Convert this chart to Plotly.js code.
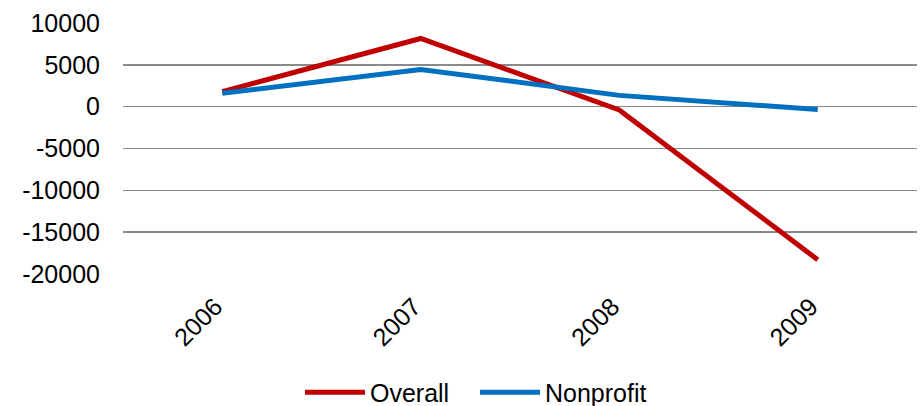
<!DOCTYPE html>
<html>
<head>
<meta charset="utf-8">
<script src="https://cdn.plot.ly/plotly-3.0.1.min.js"></script>
<style>html,body{margin:0;padding:0;background:#fff;}#chart{width:921px;height:406px;}</style>
</head>
<body>
<div id="chart"></div>
<script>
const years = ["2006", "2007", "2008", "2009"];
const overall = [1800, 8150, -400, -18300];
const nonprofit = [1600, 4450, 1350, -350];
const yTicks = [-20000, -15000, -10000, -5000, 0, 5000, 10000];

const traces = [
  {x: years, y: overall, name: "Overall", type: "scatter", mode: "lines",
   line: {color: "#C00000", width: 5}},
  {x: years, y: nonprofit, name: "Nonprofit", type: "scatter", mode: "lines",
   line: {color: "#0070C0", width: 5}}
];

const layout = {
  width: 921, height: 406,
  margin: {l: 123, r: 4, t: 23, b: 132, autoexpand: false},
  paper_bgcolor: "#fff", plot_bgcolor: "#fff",
  font: {family: "Liberation Sans, Arial, sans-serif", size: 25, color: "#000"},
  showlegend: true,
  legend: {orientation: "h", xref: "container", yref: "container",
           x: 0.3257, xanchor: "left", y: 0.033, yanchor: "middle",
           font: {size: 25, color: "#000"}, itemwidth: 60, tracegroupgap: 0,
           entrywidth: 100, entrywidthmode: "pixels"},
  xaxis: {type: "category", range: [-0.5, 3.5], autorange: false, tickangle: -45,
          showgrid: false, zeroline: false, showline: false, ticks: "",
          ticklabelstandoff: 12, ticklabelshift: -7,
          tickfont: {size: 25}, automargin: false},
  yaxis: {range: [-20000, 10000], autorange: false, tickvals: yTicks, ticktext: yTicks.map(String),
          showgrid: true, gridcolor: "#8a8a8a", gridwidth: 1.5, zeroline: false,
          showline: false, ticks: "", ticklabelstandoff: 22,
          tickfont: {size: 25}, automargin: false}
};

Plotly.newPlot("chart", traces, layout, {displayModeBar: false, staticPlot: true});
</script>
</body>
</html>
